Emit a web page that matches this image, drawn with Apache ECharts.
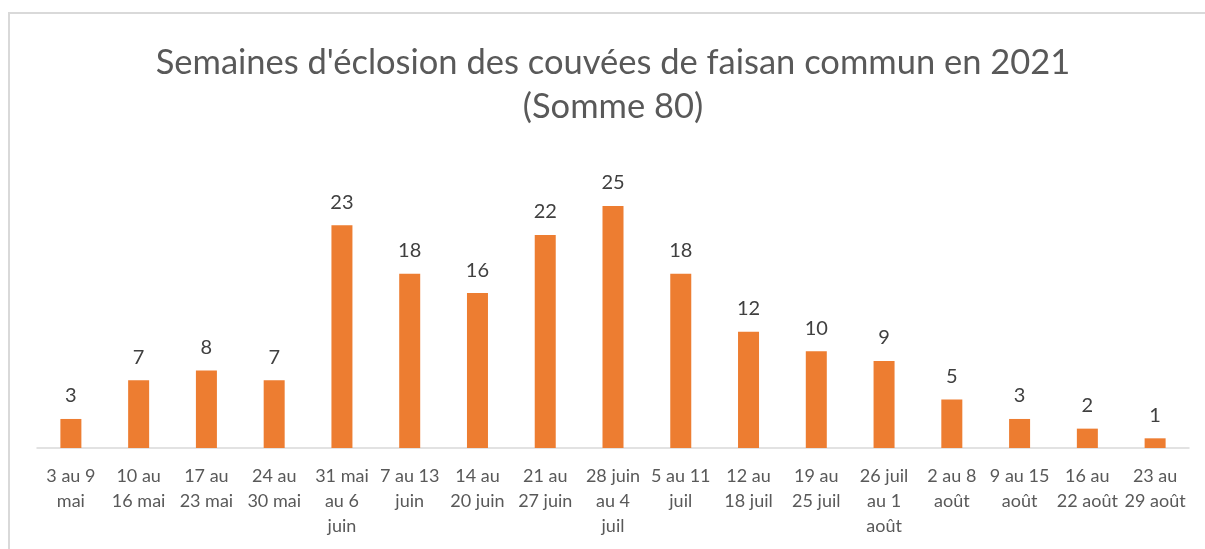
<html>
    <head>
        <meta charset="UTF-8" />
        <script src="https://cdn.jsdelivr.net/npm/echarts@6/dist/echarts.min.js"></script>
        <style>
            body { margin: 0; background: #ffffff; }
            #frame { position: absolute; left: 8px; top: 12px; width: 1300px; height: 600px;
                     border-left: 2px solid #d9d9d9; border-top: 2px solid #d9d9d9; }
        </style>
    </head>
    <body>
        <div id="frame"></div>
        <div id="container" style="position: absolute; left: 0; top: 0; width: 1205px; height: 549px;"></div>
        <script>
            var titleText = "Semaines d'éclosion des couvées de faisan commun en 2021\n(Somme 80)";

            var weeks = [
                "3 au 9\nmai", "10 au\n16 mai", "17 au\n23 mai", "24 au\n30 mai",
                "31 mai\nau 6\njuin", "7 au 13\njuin", "14 au\n20 juin", "21 au\n27 juin",
                "28 juin\nau 4\njuil", "5 au 11\njuil", "12 au\n18 juil", "19 au\n25 juil",
                "26 juil\nau 1\naoût", "2 au 8\naoût", "9 au 15\naoût", "16 au\n22 août",
                "23 au\n29 août"
            ];

            var broods = [3, 7, 8, 7, 23, 18, 16, 22, 25, 18, 12, 10, 9, 5, 3, 2, 1];

            var chart = echarts.init(document.getElementById('container'));
            chart.setOption({
                animation: false,
                textStyle: { fontFamily: 'Lato' },
                title: {
                    text: titleText,
                    left: 608,
                    top: 36,
                    textAlign: 'center',
                    textStyle: {
                        fontFamily: 'Lato',
                        fontSize: 34.5,
                        fontWeight: 'normal',
                        color: '#595959',
                        lineHeight: 44
                    }
                },
                grid: { left: 37, right: 16, top: 157.6, height: 290.4 },
                xAxis: {
                    type: 'category',
                    data: weeks,
                    axisLine: { lineStyle: { color: '#d9d9d9', width: 1.5 } },
                    axisTick: { show: false },
                    axisLabel: {
                        interval: 0,
                        color: '#595959',
                        fontFamily: 'Lato',
                        fontSize: 18,
                        lineHeight: 25,
                        margin: 16
                    }
                },
                yAxis: {
                    type: 'value',
                    min: 0,
                    max: 30,
                    show: false,
                    splitLine: { show: false }
                },
                series: [{
                    type: 'bar',
                    data: broods,
                    barWidth: 21,
                    itemStyle: { color: '#ED7D31' },
                    label: {
                        show: true,
                        position: 'top',
                        distance: 13,
                        color: '#404040',
                        fontFamily: 'Lato',
                        fontSize: 20
                    }
                }]
            });
        </script>
    </body>
</html>
